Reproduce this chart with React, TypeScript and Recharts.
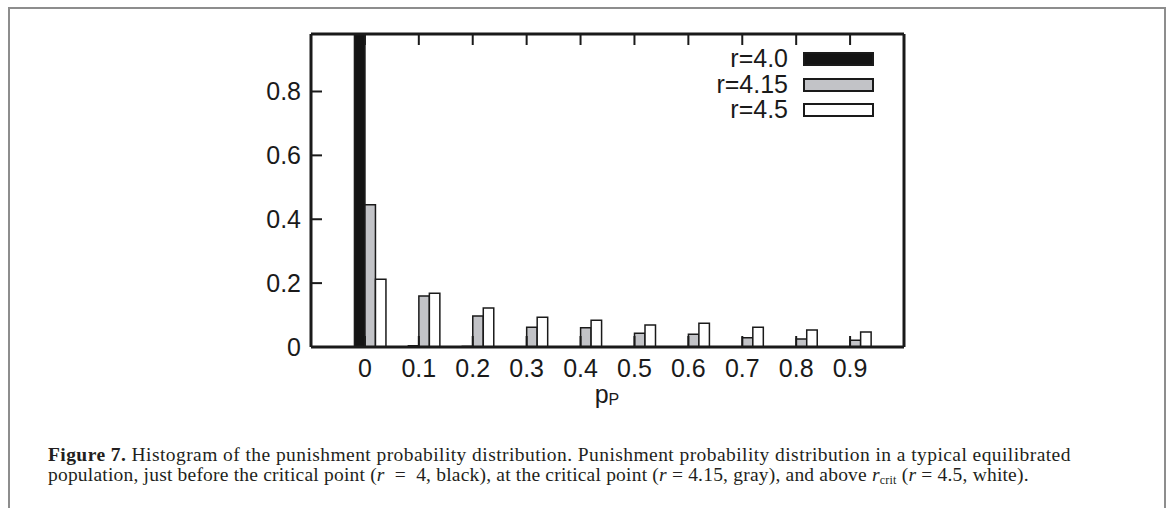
import { BarChart, Bar, XAxis, YAxis } from 'recharts';

// histogram bins of the punishment probability p_P
const bins = [0, 0.1, 0.2, 0.3, 0.4, 0.5, 0.6, 0.7, 0.8, 0.9];
const r40 = [0.99, 0.004, 0.002, 0, 0, 0, 0, 0, 0, 0];
const r415 = [0.445, 0.16, 0.097, 0.062, 0.06, 0.043, 0.04, 0.029, 0.025, 0.021];
const r45 = [0.212, 0.168, 0.122, 0.093, 0.084, 0.069, 0.074, 0.062, 0.053, 0.047];
const yTicks = [0, 0.2, 0.4, 0.6, 0.8];
const seriesNames = ['r=4.0', 'r=4.15', 'r=4.5'];
const seriesFills = ['#141414', '#c2c3c7', '#ffffff'];

const data = bins.map((p, i) => ({ p, r40: r40[i], r415: r415[i], r45: r45[i] }));

const INK = '#1a1a1a';
const sans = '"Liberation Sans", Arial, Helvetica, sans-serif';
const axisLine = { stroke: INK, strokeWidth: 3 };
const TICK = 11;

// plot frame, set by the chart margins and axis sizes below
const W = 1171;
const H = 420;
const LEFT = 311;
const TOP = 34;
const BOTTOM = 347;
const RIGHT = 904;

// gnuplot-style ticks pointing into the plot
function LeftTick({ y, payload }: any) {
  return (
    <g>
      <line x1={LEFT} x2={LEFT + TICK} y1={y} y2={y} stroke={INK} strokeWidth={2} />
      <text x={LEFT - 10} y={y} dy="0.355em" textAnchor="end" fill={INK} fontSize={25} fontFamily={sans}>
        {payload.value}
      </text>
    </g>
  );
}

function BottomTick({ x, payload }: any) {
  return (
    <g>
      <line x1={x} x2={x} y1={BOTTOM} y2={BOTTOM - TICK} stroke={INK} strokeWidth={2} />
      <text x={x} y={BOTTOM + 12} dy="0.71em" textAnchor="middle" fill={INK} fontSize={25} fontFamily={sans}>
        {payload.value}
      </text>
    </g>
  );
}

function TopTick({ x }: any) {
  return <line x1={x} x2={x} y1={TOP} y2={TOP + TICK} stroke={INK} strokeWidth={2} />;
}

function LegendBox() {
  return (
    <div style={{ position: 'absolute', left: 640, top: 46, width: 234, fontFamily: sans, fontSize: 25, color: INK }}>
      {seriesNames.map((name, i) => (
        <div key={name} style={{ display: 'flex', alignItems: 'center', justifyContent: 'flex-end', height: 25.7, lineHeight: '25.7px' }}>
          <span>{name}</span>
          <span
            style={{
              display: 'inline-block',
              marginLeft: 15,
              width: 71,
              height: 14,
              boxSizing: 'border-box',
              background: seriesFills[i],
              border: `2px solid ${INK}`,
            }}
          />
        </div>
      ))}
    </div>
  );
}

export default function App() {
  return (
    <div style={{ position: 'absolute', left: 0, top: 0, width: W, height: 508, background: '#fff', overflow: 'hidden' }}>
      <div
        style={{
          position: 'absolute',
          left: 8,
          top: 7,
          width: 1158,
          height: 540,
          border: '2px solid #8d8d8d',
          boxSizing: 'border-box',
        }}
      />
      <div style={{ position: 'absolute', left: 0, top: 0 }}>
        <BarChart
          width={W}
          height={H}
          data={data}
          margin={{ top: 0, right: W - RIGHT - 10, bottom: 0, left: 0 }}
          barGap={0}
        >
          <XAxis
            xAxisId="top"
            orientation="top"
            type="number"
            dataKey="p"
            domain={[-0.1, 1.0]}
            ticks={bins}
            height={TOP}
            axisLine={axisLine}
            tickLine={false}
            tick={<TopTick />}
            interval={0}
          />
          <XAxis
            type="number"
            dataKey="p"
            domain={[-0.1, 1.0]}
            ticks={bins}
            height={H - BOTTOM}
            axisLine={axisLine}
            tickLine={false}
            tick={<BottomTick />}
            interval={0}
          />
          <YAxis
            type="number"
            domain={[0, 0.98]}
            allowDataOverflow
            ticks={yTicks}
            width={LEFT}
            axisLine={axisLine}
            tickLine={false}
            tick={<LeftTick />}
            interval={0}
          />
          <YAxis
            yAxisId="right"
            orientation="right"
            type="number"
            domain={[0, 0.98]}
            width={10}
            axisLine={axisLine}
            tickLine={false}
            tick={false}
          />
          {/* empty slot so each cluster starts one bar-width left of its tick, as in the original */}
          <Bar dataKey="slot" fill="none" barSize={10.5} isAnimationActive={false} />
          <Bar dataKey="r40" fill={seriesFills[0]} stroke={INK} strokeWidth={1.5} barSize={10.5} isAnimationActive={false} />
          <Bar dataKey="r415" fill={seriesFills[1]} stroke={INK} strokeWidth={1.5} barSize={10.5} isAnimationActive={false} />
          <Bar dataKey="r45" fill={seriesFills[2]} stroke={INK} strokeWidth={1.5} barSize={10.5} isAnimationActive={false} />
        </BarChart>
      </div>
      <LegendBox />
      <div
        style={{
          position: 'absolute',
          left: 507,
          top: 382,
          width: 200,
          textAlign: 'center',
          fontFamily: sans,
          fontSize: 25,
          lineHeight: '25px',
          color: INK,
        }}
      >
        p<span style={{ fontSize: 16, position: 'relative', top: 2 }}>P</span>
      </div>
      <div
        style={{
          position: 'absolute',
          left: 48,
          top: 445,
          fontFamily: '"Liberation Serif", "Times New Roman", serif',
          fontSize: 19.5,
          lineHeight: '20px',
          color: '#231f20',
          whiteSpace: 'nowrap',
        }}
      >
        <div style={{ letterSpacing: 0.43 }}>
          <b>Figure 7.</b> Histogram of the punishment probability distribution. Punishment probability distribution in a typical equilibrated
        </div>
        <div style={{ letterSpacing: 0.2 }}>
          population, just before the critical point (<i>r</i>&nbsp; = &nbsp;4, black), at the critical point (<i>r</i> = 4.15, gray), and above{' '}
          <i>r</i>
          <span style={{ fontSize: 12, position: 'relative', top: 3 }}>crit</span> (<i>r</i> = 4.5, white).
        </div>
      </div>
    </div>
  );
}
